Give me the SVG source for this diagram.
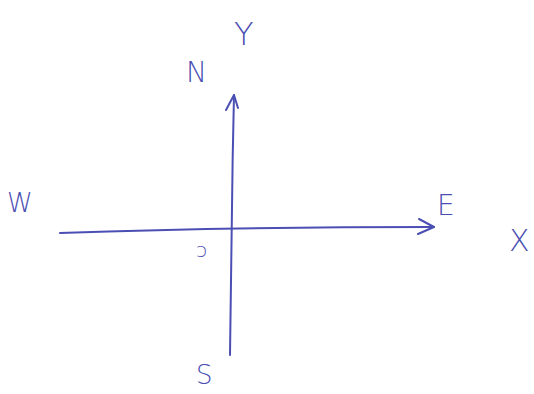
<svg xmlns="http://www.w3.org/2000/svg" width="534" height="394" viewBox="0 0 534 394">
<style>
.ax{fill:none;stroke:#4b4fb3;stroke-width:2;stroke-linecap:round;stroke-linejoin:round}
.lb{font-family:"DejaVu Sans","Liberation Sans",sans-serif;fill:#4b4fb3;font-weight:300}
</style>
<rect width="534" height="394" fill="#ffffff"/>
<g id="connectors">
<path class="ax" d="M60,233 C150,230 300,227 434,227"/>
<path class="ax" d="M419,219 L434,227 L418,234"/>
<path class="ax" d="M230,355 C231,260 232,180 234,95"/>
<path class="ax" d="M226,110 L234,95 L238,108"/>
</g>
<g id="labels">
<text class="lb" x="234" y="45" font-size="32">Y</text>
<text class="lb" x="186" y="82" font-size="28">N</text>
<text class="lb" x="7" y="212" font-size="26">W</text>
<text class="lb" x="437" y="215" font-size="28">E</text>
<text class="lb" x="509" y="251" font-size="30">X</text>
<text class="lb" x="196" y="384" font-size="26">S</text>
<text class="lb" x="196" y="257" font-size="20">ɔ</text>
</g>
</svg>
